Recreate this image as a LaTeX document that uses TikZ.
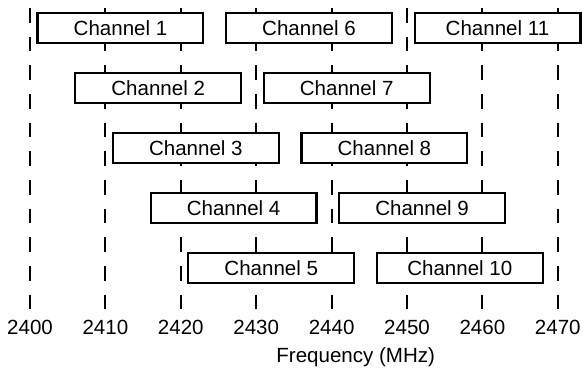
\documentclass[tikz,border=0pt]{standalone}
\usepackage{fontspec}
\setmainfont{Liberation Sans}
\usepackage{tikz}
\usepackage{xcolor}

\tikzset{
  chanbox/.style={draw, fill=white, line width=1.6pt, minimum width=124.4pt,
    minimum height=22.5pt, inner sep=0pt},
  gridline/.style={line width=1.5pt, dash pattern=on 10.9pt off 10.6pt},
  every node/.style={font=\fontsize{15.4}{18}\selectfont}
}

\begin{document}
\begin{tikzpicture}[x=5.655pt, y=-0.75pt]
			\useasboundingbox (-3.98,0) rectangle (73.34,367);
			% frequency grid
			\coordinate (t0) at (0,8);  \coordinate (b0) at (0,310);
			\coordinate (t1) at (10,8); \coordinate (b1) at (10,310);
			\coordinate (t2) at (20,8); \coordinate (b2) at (20,310);
			\coordinate (t3) at (30,8); \coordinate (b3) at (30,310);
			\coordinate (t4) at (40,8); \coordinate (b4) at (40,310);
			\coordinate (t5) at (50,8); \coordinate (b5) at (50,310);
			\coordinate (t6) at (60,8); \coordinate (b6) at (60,310);
			\coordinate (t7) at (70,8); \coordinate (b7) at (70,310);
			\draw[gridline] (t0) -- (b0); \draw[gridline] (t1) -- (b1);
			\draw[gridline] (t2) -- (b2); \draw[gridline] (t3) -- (b3);
			\draw[gridline] (t4) -- (b4); \draw[gridline] (t5) -- (b5);
			\draw[gridline] (t6) -- (b6); \draw[gridline] (t7) -- (b7);
			\node (f0) at (0,327) {2400};
			\node (f1) at (10,327) {2410};
			\node (f2) at (20,327) {2420};
			\node (f3) at (30,327) {2430};
			\node (f4) at (40,327) {2440};
			\node (f5) at (50,327) {2450};
			\node (f6) at (60,327) {2460};
			\node (f7) at (70,327) {2470};
			\node (axis) at (43.2,357) {Frequency (MHz)};
			% channels
			\node[chanbox] (ch1) at (12,28) {Channel 1};
			\node[chanbox] (ch2) at (17,88) {Channel 2};
			\node[chanbox] (ch3) at (22,148) {Channel 3};
			\node[chanbox] (ch4) at (27,208) {Channel 4};
			\node[chanbox] (ch5) at (32,268) {Channel 5};
			\node[chanbox] (ch6) at (37,28) {Channel 6};
			\node[chanbox] (ch7) at (42,88) {Channel 7};
			\node[chanbox] (ch8) at (47,148) {Channel 8};
			\node[chanbox] (ch9) at (52,208) {Channel 9};
			\node[chanbox] (ch10) at (57,268) {Channel 10};
			\node[chanbox] (ch11) at (62,28) {Channel 11};
		\end{tikzpicture}
\end{document}
